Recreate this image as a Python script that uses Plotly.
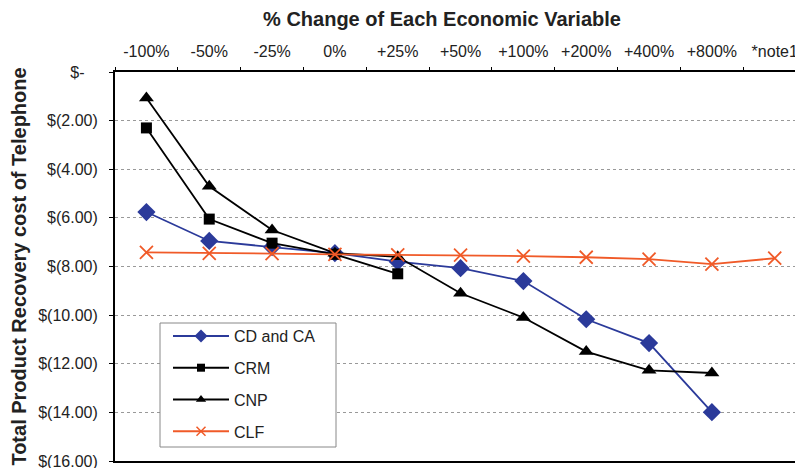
import plotly.graph_objects as go

categories = ["-100%", "-50%", "-25%", "0%", "+25%", "+50%", "+100%", "+200%", "+400%", "+800%", "*note1"]
cd_ca = [-5.76, -6.95, -7.2, -7.45, -7.8, -8.07, -8.6, -10.17, -11.15, -13.99, None]
crm = [-2.3, -6.05, -7.04, -7.5, -8.3, None, None, None, None, None, None]
cnp = [-1.07, -4.7, -6.5, -7.45, -7.6, -9.1, -10.1, -11.5, -12.27, -12.38, None]
clf = [-7.42, -7.46, -7.47, -7.5, -7.52, -7.53, -7.57, -7.62, -7.7, -7.9, -7.66]

y_tickvals = [0, -2, -4, -6, -8, -10, -12, -14, -16]
y_ticktext = ["$-\u00a0\u00a0\u00a0", "$(2.00)", "$(4.00)", "$(6.00)", "$(8.00)", "$(10.00)", "$(12.00)", "$(14.00)", "$(16.00)"]

font = "Liberation Sans, Arial, sans-serif"
blue = "#2B3A9A"
orange = "#F05A28"
txt = "#222"

# the page body has an 8px margin, so the figure is drawn 8px right/down
W, H = 795, 460
L, T, B = 107, 64, 7
PW, PH = W - L, H - T - B

series = [
    ("CD and CA", cd_ca, blue, "diamond", 14, 10),
    ("CRM", crm, "black", "square", 11, 8),
    ("CNP", cnp, "black", "triangle-up", 13, 9),
    ("CLF", clf, orange, "x-thin", 13, 9),
]

fig = go.Figure()
for i, (name, vals, col, sym, sz, lsz) in enumerate(series):
    mline = dict(color=col, width=1.8) if sym == "x-thin" else None
    fig.add_trace(go.Scatter(x=categories, y=vals, name=name, mode="lines+markers",
                             line=dict(color=col, width=1.8), showlegend=False,
                             marker=dict(symbol=sym, size=sz, color=col, line=mline)))
    # legend entry (smaller legend symbol, as in the reference)
    lline = dict(color=col, width=1.5) if sym == "x-thin" else None
    fig.add_trace(go.Scatter(x=[None], y=[None], name=name, mode="lines+markers",
                             line=dict(color=col, width=2), legendgroup=str(i),
                             marker=dict(symbol=sym, size=lsz, color=col, line=lline)))

# legend frame
fig.add_shape(type="rect", xref="paper", yref="paper",
              x0=(160 - 8 - L) / PW, x1=(336 - 8 - L) / PW,
              y0=(H - B - (447 - 8)) / PH, y1=(H - B - (323 - 8)) / PH,
              line=dict(color="#888", width=1), fillcolor="white", layer="above")

fig.update_layout(
    width=W, height=H,
    margin=dict(l=L, r=0, t=T, b=B),
    paper_bgcolor="white", plot_bgcolor="white",
    font=dict(family=font, size=16, color=txt),
    title=dict(text="<b>% Change of Each Economic Variable</b>", x=(442 - 8) / W, xanchor="center",
               y=1 - 11 / H, yanchor="middle", font=dict(size=20, family=font, color=txt)),
    legend=dict(x=(168 - 8 - L) / PW, y=(H - B - (319 - 8)) / PH, xanchor="left", yanchor="top",
                borderwidth=0, bgcolor="rgba(0,0,0,0)",
                font=dict(size=16, family=font, color=txt),
                tracegroupgap=8, traceorder="grouped", itemwidth=56),
    showlegend=True,
)
fig.update_xaxes(
    type="category", side="top", range=[-0.5, 10.45], automargin=False,
    showline=True, linecolor="black", linewidth=2, mirror=True,
    ticks="outside", ticklen=3, tickcolor="black", tickson="boundaries",
    showgrid=False, tickfont=dict(size=16, family=font, color=txt),
    ticklabelstandoff=7,
)
fig.update_yaxes(
    range=[-16, 0], tickvals=y_tickvals, ticktext=y_ticktext, automargin=False,
    showline=True, linecolor="black", linewidth=2,
    ticks="outside", ticklen=4, tickcolor="black",
    showgrid=True, gridcolor="#999", griddash="dot", gridwidth=1,
    zeroline=False, tickfont=dict(size=16, family=font, color=txt),
    ticklabelstandoff=8, ticklabeloverflow="allow",
    title=dict(text="<b>Total Product Recovery cost of Telephone</b>",
               font=dict(size=20, family=font, color=txt), standoff=8),
)

fig.write_html("out.html")
